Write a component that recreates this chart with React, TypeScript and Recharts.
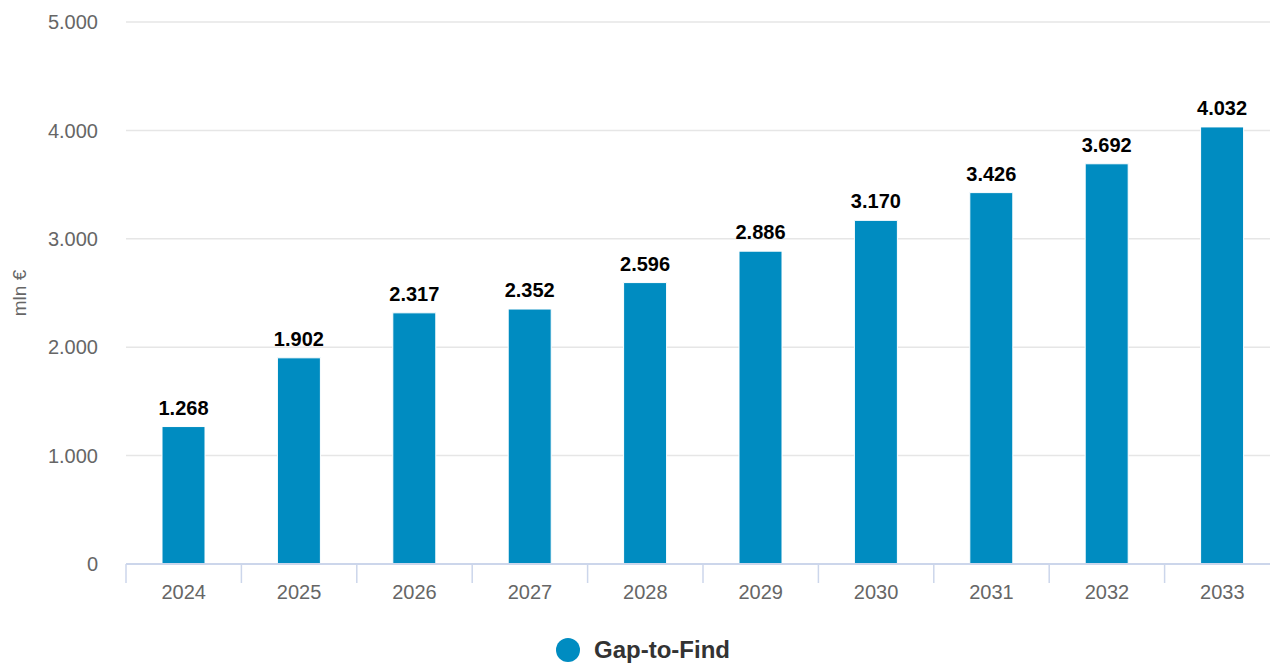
import React from 'react';
import { BarChart, Bar, XAxis, YAxis, CartesianGrid, Legend, LabelList, Label } from 'recharts';

const years = ['2024', '2025', '2026', '2027', '2028', '2029', '2030', '2031', '2032', '2033'];
const gapToFind = [1268, 1902, 2317, 2352, 2596, 2886, 3170, 3426, 3692, 4032];
const yTicks = [0, 1000, 2000, 3000, 4000, 5000];
const seriesName = 'Gap-to-Find';
const yTitle = 'mln €';

const data = years.map((y, i) => ({ year: y, value: gapToFind[i] }));

const CHART_W = 1290;
const CHART_H = 664;
const Y_W = 126;
const M_RIGHT = 10;
const CAT_W = (CHART_W - Y_W - M_RIGHT) / years.length;
const FONT = '"Liberation Sans", Arial, Helvetica, sans-serif';
const BAR_COLOR = '#008cc1';

const fmt = (v: number) => String(v).replace(/\B(?=(\d{3})+(?!\d))/g, '.');

const XTick = (props: any) => {
  const { x, y, payload, index } = props;
  const half = CAT_W / 2;
  return (
    <g>
      <line x1={x - half} x2={x - half} y1={y} y2={y + 19} stroke="#ccd6eb" strokeWidth={1.5} />
      {index === years.length - 1 && (
        <line x1={x + half} x2={x + half} y1={y} y2={y + 19} stroke="#ccd6eb" strokeWidth={1.5} />
      )}
      <text x={x} y={y + 35} textAnchor="middle" fill="#666666" fontSize={20} fontFamily={FONT}>
        {payload.value}
      </text>
    </g>
  );
};

const LegendContent = () => (
  <div
    style={{
      width: CHART_W,
      height: 40,
      paddingTop: 12,
      paddingRight: 4,
      boxSizing: 'border-box',
      display: 'flex',
      justifyContent: 'center',
      alignItems: 'center',
      fontFamily: FONT,
    }}
  >
    <span
      style={{
        display: 'inline-block',
        width: 24,
        height: 24,
        borderRadius: 12,
        background: BAR_COLOR,
        marginRight: 14,
      }}
    />
    <span style={{ fontSize: 24, fontWeight: 'bold', color: '#333333' }}>{seriesName}</span>
  </div>
);

export default function App() {
  return (
    <div
      style={{
        position: 'absolute',
        left: 0,
        top: 0,
        width: 1270,
        height: 664,
        overflow: 'hidden',
        background: '#ffffff',
      }}
    >
      <BarChart
        width={CHART_W}
        height={CHART_H}
        data={data}
        margin={{ top: 22, right: M_RIGHT, left: 0, bottom: 0 }}
        barCategoryGap={0}
      >
        <CartesianGrid vertical={false} stroke="#e6e6e6" strokeWidth={1.5} />
        <XAxis
          dataKey="year"
          height={60}
          tickLine={false}
          tickSize={0}
          tickMargin={0}
          axisLine={{ stroke: '#ccd6eb', strokeWidth: 2 }}
          tick={<XTick />}
          interval={0}
        />
        <YAxis
          width={Y_W}
          domain={[0, 5000]}
          ticks={yTicks}
          axisLine={false}
          tickLine={false}
          tickMargin={22}
          tickFormatter={fmt}
          tick={{ fill: '#666666', fontSize: 20, fontFamily: FONT }}
        >
          <Label
            value={yTitle}
            angle={-90}
            position="insideLeft"
            offset={19}
            style={{ textAnchor: 'middle', fill: '#666666', fontSize: 19, fontFamily: FONT }}
          />
        </YAxis>
        <Legend verticalAlign="bottom" height={40} wrapperStyle={{ left: 0, width: CHART_W }} content={<LegendContent />} />
        <Bar
          dataKey="value"
          name={seriesName}
          fill={BAR_COLOR}
          stroke="#ffffff"
          strokeWidth={1}
          barSize={43}
          isAnimationActive={false}
        >
          <LabelList
            dataKey="value"
            position="top"
            offset={12}
            formatter={(v: any) => fmt(Number(v))}
            style={{ fill: '#000000', fontWeight: 'bold', fontSize: 20, fontFamily: FONT, stroke: 'none' }}
          />
        </Bar>
      </BarChart>
    </div>
  );
}
